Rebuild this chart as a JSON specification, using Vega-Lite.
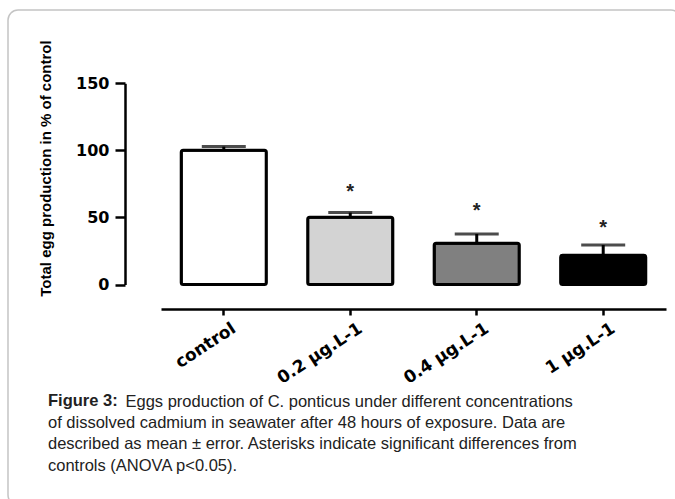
{
  "$schema": "https://vega.github.io/schema/vega-lite/v6.json",
  "width": 673,
  "height": 495,
  "autosize": {"type": "none"},
  "padding": {"left": 8, "top": 10, "right": -6, "bottom": -6},
  "background": "white",
  "config": {
    "view": {"stroke": "#c4c4c4", "strokeWidth": 1.5, "cornerRadius": 10},
    "axisY": {"domainColor": "black", "domainWidth": 2.5, "tickColor": "black", "tickWidth": 2.5, "tickSize": 10, "labelFont": "DejaVu Sans", "labelFontWeight": "bold", "labelFontSize": 16, "labelColor": "black", "labelPadding": 6, "grid": false, "titleFont": "Liberation Sans", "titleFontSize": 15, "titleFontWeight": "bold", "titleColor": "black", "titlePadding": 22, "titleY": 158},
    "axisX": {"domainColor": "black", "domainWidth": 2.5, "tickColor": "black", "tickWidth": 2.5, "tickSize": 6, "labelFont": "DejaVu Sans", "labelFontWeight": "bold", "labelFontSize": 17, "labelColor": "black", "labelAngle": -33, "labelAlign": "right", "labelBaseline": "top", "labelPadding": 5, "labelOffset": 6, "grid": false, "titleFont": "Liberation Sans", "titleFontSize": 16.5, "titleFontWeight": "normal", "titleColor": "#222222", "titleAlign": "left", "titleBaseline": "alphabetic", "titleX": 117, "titleY": 97}
  },
  "title": {
    "text": "Figure 3:",
    "subtitle": [
      "of dissolved cadmium in seawater after 48 hours of exposure. Data are",
      "described as mean ± error. Asterisks indicate significant differences from",
      "controls (ANOVA p<0.05)."
    ],
    "orient": "bottom",
    "anchor": "start",
    "frame": "group",
    "font": "Liberation Sans",
    "fontSize": 16.5,
    "fontWeight": "bold",
    "color": "#222222",
    "subtitleFont": "Liberation Sans",
    "subtitleFontSize": 16.5,
    "subtitleFontWeight": "normal",
    "subtitleColor": "#222222",
    "subtitleLineHeight": 21.6,
    "subtitlePadding": 5.1,
    "offset": 0,
    "dx": 40,
    "dy": -112
  },
  "data": {
    "values": [
      {"group": "control", "mean": 100, "err": 102.8, "star": null, "sig": ""},
      {"group": "0.2 µg.L-1", "mean": 50.1, "err": 53.6, "star": 73, "sig": "*"},
      {"group": "0.4 µg.L-1", "mean": 30.7, "err": 37.7, "star": 58.6, "sig": "*"},
      {"group": "1 µg.L-1", "mean": 21.8, "err": 29.5, "star": 46, "sig": "*"}
    ]
  },
  "encoding": {
    "x": {
      "field": "group",
      "type": "nominal",
      "sort": null,
      "title": "Eggs production of C. ponticus under different concentrations",
      "scale": {"range": [153, 658], "paddingInner": 0.327, "paddingOuter": 0.16},
      "axis": {"offset": -196}
    }
  },
  "layer": [
    {
      "mark": {"type": "bar", "stroke": "black", "strokeWidth": 3, "cornerRadius": 2},
      "encoding": {
        "y": {"field": "mean", "type": "quantitative", "title": "Total egg production in % of control", "scale": {"domain": [0, 150], "range": [274.5, 73.3], "nice": false}, "axis": {"values": [0, 50, 100, 150], "offset": -117}},
        "color": {"field": "group", "type": "nominal", "sort": null, "scale": {"domain": ["control", "0.2 µg.L-1", "0.4 µg.L-1", "1 µg.L-1"], "range": ["#ffffff", "#d3d3d3", "#808080", "#000000"]}, "legend": null}
      }
    },
    {
      "mark": {"type": "rule", "color": "black", "strokeWidth": 3},
      "encoding": {
        "y": {"field": "mean", "type": "quantitative", "title": "Total egg production in % of control", "scale": {"domain": [0, 150], "range": [274.5, 73.3], "nice": false}, "axis": {"values": [0, 50, 100, 150], "offset": -117}},
        "y2": {"field": "err"}
      }
    },
    {
      "mark": {"type": "tick", "color": "black", "size": 44, "thickness": 3, "orient": "horizontal"},
      "encoding": {
        "y": {"field": "err", "type": "quantitative", "title": "Total egg production in % of control", "scale": {"domain": [0, 150], "range": [274.5, 73.3], "nice": false}, "axis": {"values": [0, 50, 100, 150], "offset": -117}}
      }
    },
    {
      "mark": {"type": "text", "font": "Liberation Sans", "fontSize": 20, "fontWeight": "bold", "color": "#222222", "baseline": "middle", "dy": 5},
      "encoding": {
        "y": {"field": "star", "type": "quantitative", "title": "Total egg production in % of control", "scale": {"domain": [0, 150], "range": [274.5, 73.3], "nice": false}, "axis": {"values": [0, 50, 100, 150], "offset": -117}},
        "text": {"field": "sig"}
      }
    }
  ]
}
